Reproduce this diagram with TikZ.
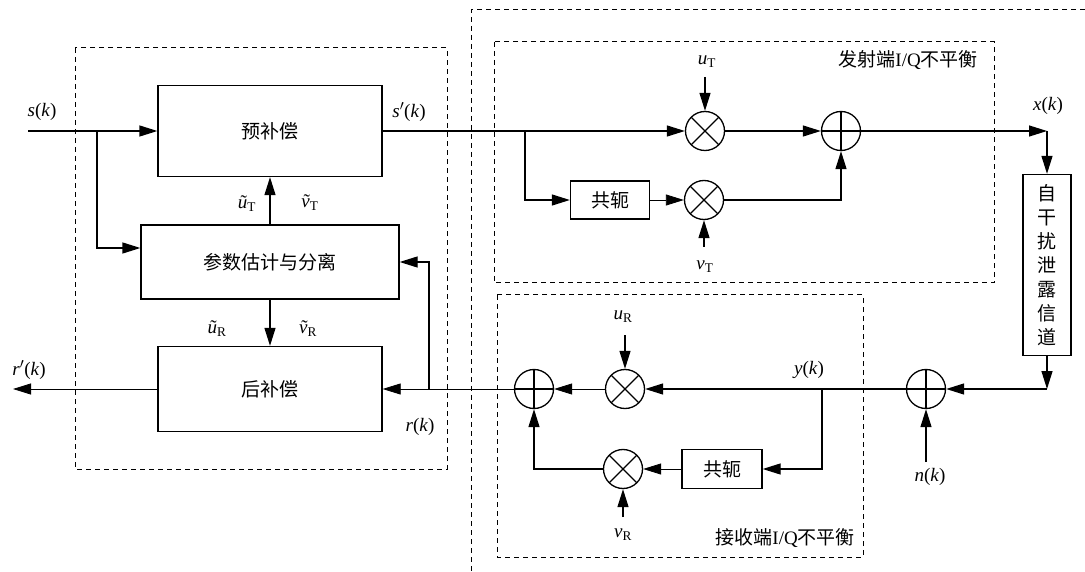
\documentclass[tikz,border=0pt]{standalone}
\usepackage{fontspec}
\setmainfont{Liberation Serif}
\newfontfamily\cjk{Noto Sans CJK SC}
\usetikzlibrary{arrows.meta}
\tikzset{
  blk/.style={draw, line width=1.3pt, inner sep=0pt, font=\cjk\fontsize{19}{22}\selectfont},
  mixer/.style={draw, line width=1.3pt, circle, minimum size=39pt, inner sep=0pt,
    path picture={\draw[line width=1.3pt]
      (path picture bounding box.center) ++(45:19.5pt) -- ++(225:39pt)
      (path picture bounding box.center) ++(135:19.5pt) -- ++(-45:39pt);}},
  adder/.style={draw, line width=1.3pt, circle, minimum size=39pt, inner sep=0pt,
    path picture={\draw[line width=1.3pt]
      (path picture bounding box.north) -- (path picture bounding box.south)
      (path picture bounding box.west) -- (path picture bounding box.east);}},
  sig/.style={line width=1.3pt, -{Triangle[length=18pt,width=11pt]}},
  thinsig/.style={sig, line width=0.8pt},
  dashbox/.style={line width=1pt, dash pattern=on 5pt off 4pt},
  lbl/.style={inner sep=0pt}
}
\newcommand{\iq}[2]{{\cjk #1}I/Q{\cjk #2}}
\newcommand{\tl}[2]{{\ooalign{\textit{#1}\cr\hidewidth\kern0.12em\char"02DC\hidewidth\cr}}\textsubscript{#2}}
\begin{document}
\begin{tikzpicture}[x=1pt, y=-1pt, font=\fontsize{19}{22}\selectfont]
  \useasboundingbox (0,0) rectangle (1085,572);
  % dashed frames
  \draw[dashbox] (75,48) rectangle (447,469);
  \draw[dashbox] (1085,10) -- (471,10) -- (471,572);
  \draw[dashbox] (494,42) rectangle (994,283);
  \draw[dashbox] (497,295) rectangle (863,557);
  \node[lbl, anchor=east] (txtitle) at (978,60) {\iq{发射端}{不平衡}};
  \node[lbl, anchor=east] (rxtitle) at (855,538) {\iq{接收端}{不平衡}};

  % compensation side
  \node[blk, minimum width=224pt, minimum height=91pt] (pre) at (270,131) {预补偿};
  \node[blk, minimum width=258pt, minimum height=74pt] (est) at (270,262) {参数估计与分离};
  \node[blk, minimum width=224pt, minimum height=85pt] (post) at (270,389) {后补偿};
  \coordinate (sin) at (28,131);
  \coordinate (j1) at (97,131);
  \coordinate (rout) at (13,389);
  \coordinate (j4) at (429,389);

  % transmitter I/Q imbalance
  \coordinate (j2) at (525,131);
  \node[mixer] (m1) at (705,131) {};
  \node[adder] (a1) at (841,131) {};
  \node[blk, minimum width=79pt, minimum height=38pt] (c1) at (610,200) {共轭};
  \node[mixer] (m2) at (704,200) {};
  \coordinate (uTin) at (705,77);
  \coordinate (vTin) at (704,247);
  \coordinate (xk) at (1047,131);
  \node[blk, minimum width=48pt, minimum height=181pt, align=center,
    font=\cjk\fontsize{19}{24}\selectfont] (si) at (1047,265)
    {自\\干\\扰\\泄\\露\\信\\道};
  \coordinate (rc) at (1047,389);

  % receiver I/Q imbalance
  \node[adder] (an) at (926,389) {};
  \coordinate (nk) at (926,462);
  \coordinate (j3) at (822,389);
  \node[mixer] (mu) at (625,389) {};
  \node[adder] (ar) at (534,389) {};
  \node[blk, minimum width=80pt, minimum height=39pt] (c2) at (722,469) {共轭};
  \node[mixer] (mv) at (623,469) {};
  \coordinate (uRin) at (625,335);
  \coordinate (vRin) at (623,517);

  % connectors
  \draw[sig] (sin) -- (pre.west);
  \draw[sig] (j1) |- ([yshift=14pt]est.west);
  \draw[sig] (est.north) -- (pre.south);
  \draw[sig] (est.south) -- (post.north);
  \draw[thinsig] (post.west) -- (rout);
  \draw[sig] (pre.east) -- (m1.west);
  \draw[sig] (j2) |- (c1.west);
  \draw[thinsig] (c1.east) -- (m2.west);
  \draw[sig] (m1.east) -- (a1.west);
  \draw[sig] (m2.east) -| (a1.south);
  \draw[sig] (uTin) -- (m1.north);
  \draw[sig] (vTin) -- (m2.south);
  \draw[sig] (a1.east) -- (xk);
  \draw[sig] (xk) -- (si.north);
  \draw[sig] (si.south) -- (rc);
  \draw[sig] (rc) -- (an.east);
  \draw[sig] (nk) -- (an.south);
  \draw[sig] (an.west) -- (mu.east);
  \draw[sig] (j3) |- (c2.east);
  \draw[thinsig] (c2.west) -- (mv.east);
  \draw[thinsig] (mu.west) -- (ar.east);
  \draw[sig] (mv.west) -| (ar.south);
  \draw[sig] (uRin) -- (mu.north);
  \draw[sig] (vRin) -- (mv.south);
  \draw[thinsig] (ar.west) -- (post.east);
  \draw[sig] (j4) |- (est.east);

  % signal labels
  \node[lbl] (lsk) at (42,112) {\textit{s}(\textit{k})};
  \node[lbl] (lspk) at (409,112) {\textit{s}$'$(\textit{k})};
  \node[lbl] (luTt) at (247,206) {\tl{u}{T}};
  \node[lbl] (lvTt) at (310,205) {\tl{v}{T}};
  \node[lbl] (luRt) at (217,331) {\tl{u}{R}};
  \node[lbl] (lvRt) at (308,331) {\tl{v}{R}};
  \node[lbl] (lrpk) at (29,370) {\textit{r}$'$(\textit{k})};
  \node[lbl] (lrk) at (420,427) {\textit{r}(\textit{k})};
  \node[lbl] (lxk) at (1048,106) {\textit{x}(\textit{k})};
  \node[lbl] (lyk) at (809,370) {\textit{y}(\textit{k})};
  \node[lbl] (lnk) at (930,477) {\textit{n}(\textit{k})};
  \node[lbl] (luT) at (707,62) {\textit{u}\textsubscript{T}};
  \node[lbl] (lvT) at (705,267) {\textit{v}\textsubscript{T}};
  \node[lbl] (luR) at (623,317) {\textit{u}\textsubscript{R}};
  \node[lbl] (lvR) at (623,535) {\textit{v}\textsubscript{R}};
\end{tikzpicture}
\end{document}
